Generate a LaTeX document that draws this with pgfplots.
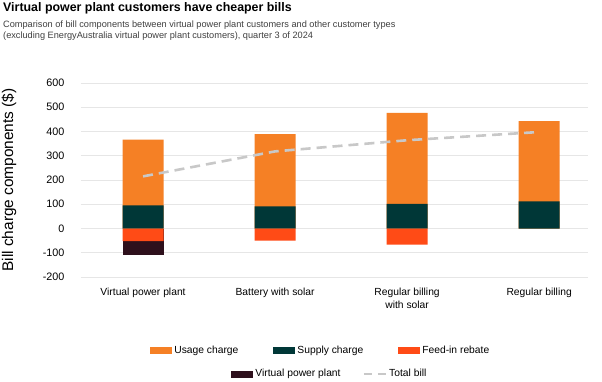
\documentclass[border=0pt]{standalone}
\usepackage{pgfplots}
\usepackage{pgfplotstable}
\pgfplotsset{compat=1.18}
\usepackage{fontspec}
\setmainfont{Liberation Sans}
\definecolor{usage}{HTML}{F58025}
\definecolor{supply}{HTML}{003737}
\definecolor{feedin}{HTML}{FF4B16}
\definecolor{vpp}{HTML}{2E101C}
\definecolor{totalc}{HTML}{C8C8C8}
\definecolor{gridc}{HTML}{E6E6E6}

% top edges of the positive bars (usage sits on supply) and bottom edges of the negative bars
\pgfplotstableread{
x usagetop supplytop
0 367 95
1 389 91
2 477 102
3 443 112
}\posbars
\pgfplotstableread{
x feedin
0 -52
1 -50
2 -66
}\feedbars
\pgfplotstableread{
x vppbottom
0 -108
}\vppbars
\pgfplotstableread{
x total
0 215
1 318
2 364
3 398
}\totalbill

\pgfplotsset{
  barleg/.style={legend image code/.code={\fill[##1] (0pt,-3.5pt) rectangle (22pt,3.5pt);}},
  lineleg/.style={legend image code/.code={\draw[##1] (0pt,0pt) -- (22pt,0pt);}},
  legfont/.style={legend style={draw=none, fill=none, font=\fontsize{10.3}{12}\selectfont}, legend cell align=left},
}

\begin{document}
\begin{tikzpicture}
\useasboundingbox[fill=white] (0pt,0pt) rectangle (602pt,-382pt);
\node[anchor=base west, inner sep=0pt, font=\bfseries\fontsize{12.4}{15}\selectfont] at (3pt,-12pt) {Virtual power plant customers have cheaper bills};
\node[anchor=base west, inner sep=0pt, font=\fontsize{9.2}{11}\selectfont, text=black!75] at (3pt,-28pt) {Comparison of bill components between virtual power plant customers and other customer types};
\node[anchor=base west, inner sep=0pt, font=\fontsize{9.2}{11}\selectfont, text=black!75] at (3pt,-39pt) {(excluding EnergyAustralia virtual power plant customers), quarter 3 of 2024};

\begin{axis}[
  at={(81pt,-277pt)}, anchor=south west,
  scale only axis, width=507pt, height=194pt,
  xmin=-0.47, xmax=3.37, ymin=-200, ymax=600,
  ytick={-200,-100,0,100,200,300,400,500,600},
  xtick={0,1,2,3},
  xticklabels={Virtual power plant, Battery with solar, {Regular billing\\with solar}, Regular billing},
  /pgf/number format/assume math mode=true,
  axis line style={draw=none},
  major tick length=0pt,
  ymajorgrids, grid style={gridc, line width=0.9pt},
  yticklabel style={font=\fontsize{10.8}{12}\selectfont, xshift=-13pt},
  xticklabel style={font=\fontsize{10.3}{12.5}\selectfont, align=center, yshift=-8pt},
  ylabel={Bill charge components (\$)},
  ylabel style={font=\fontsize{15.4}{17}\selectfont, at={(axis description cs:-0.142,0.5)}, anchor=center},
  legfont, legend columns=3,
  legend style={at={(axis description cs:0.473,-0.381)}, anchor=center,
     /tikz/every even column/.append style={column sep=33pt}},
  ybar, bar width=41pt, bar shift=0pt,
]
\addplot[barleg, fill=usage, draw=none] table[x=x, y=usagetop] {\posbars};
\addlegendentry{Usage charge}
\addplot[barleg, fill=supply, draw=none] table[x=x, y=supplytop] {\posbars};
\addlegendentry{Supply charge}
\addplot[forget plot, fill=vpp, draw=none] table[x=x, y=vppbottom] {\vppbars};
\addplot[barleg, fill=feedin, draw=none] table[x=x, y=feedin] {\feedbars};
\addlegendentry{Feed-in rebate}
\addplot[forget plot, sharp plot, totalc, line width=2.6pt, dash pattern=on 10pt off 6pt, mark=none] table[x=x, y=total] {\totalbill};
\end{axis}

\begin{axis}[
  at={(81pt,-277pt)}, anchor=south west,
  scale only axis, width=507pt, height=194pt,
  hide axis, xmin=0, xmax=1, ymin=0, ymax=1,
  legfont, legend columns=2,
  legend style={at={(axis description cs:0.491,-0.5)}, anchor=center,
     /tikz/every even column/.append style={column sep=20pt}},
]
\addlegendimage{barleg, fill=vpp, draw=none}
\addlegendentry{Virtual power plant}
\addlegendimage{lineleg, totalc, line width=2.6pt, dash pattern=on 8pt off 6pt}
\addlegendentry{Total bill}
\end{axis}
\end{tikzpicture}
\end{document}
